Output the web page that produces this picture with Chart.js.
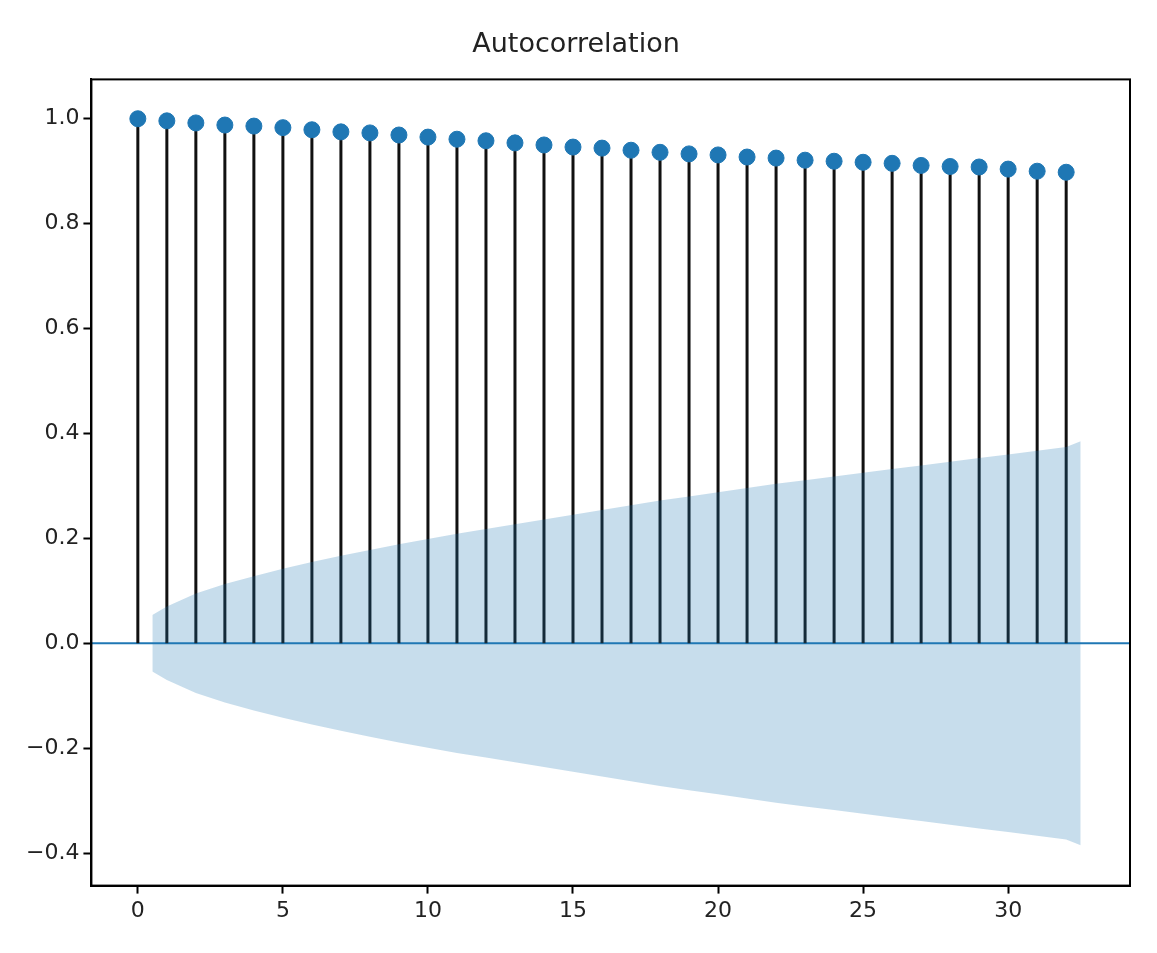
<!DOCTYPE html>
<html><head>
<script src="https://cdn.jsdelivr.net/npm/chart.js@4/dist/chart.umd.min.js"></script>
<style>body{margin:0;background:#fff}#wrap{width:1157px;height:953px}</style>
</head><body><div id="wrap"><canvas id="c"></canvas></div>
<script>
const lags = [0,1,2,3,4,5,6,7,8,9,10,11,12,13,14,15,16,17,18,19,20,21,22,23,24,25,26,27,28,29,30,31,32];
const acf = [1.0,0.996,0.992,0.988,0.986,0.983,0.979,0.975,0.973,0.969,0.965,0.961,0.958,0.954,0.950,0.946,0.944,0.940,0.936,0.933,0.931,0.927,0.925,0.921,0.919,0.917,0.915,0.911,0.909,0.908,0.904,0.900,0.898];
const bandX = [0.5,1,2,3,4,5,6,7,8,9,10,11,12,13,14,15,16,17,18,19,20,21,22,23,24,25,26,27,28,29,30,31,32,32.5];
const bandHi = [0.054,0.07,0.095,0.113,0.128,0.142,0.155,0.167,0.178,0.189,0.199,0.209,0.218,0.227,0.236,0.245,0.254,0.263,0.272,0.28,0.288,0.296,0.304,0.311,0.318,0.325,0.332,0.339,0.346,0.353,0.36,0.367,0.374,0.385];
const bandLo = bandHi.map(v => -v);
const yTicks = [-0.4,-0.2,0.0,0.2,0.4,0.6,0.8,1.0];

const stems = {
  id:'stems',
  beforeDatasetsDraw(chart){
    const {ctx, scales:{x,y}} = chart;
    ctx.save();
    ctx.strokeStyle = '#1f77b4'; ctx.lineWidth = 2;
    ctx.beginPath(); ctx.moveTo(chart.chartArea.left, y.getPixelForValue(0));
    ctx.lineTo(chart.chartArea.right, y.getPixelForValue(0)); ctx.stroke();
    ctx.strokeStyle = '#111'; ctx.lineWidth = 3;
    lags.forEach((l,i) => {
      ctx.beginPath();
      ctx.moveTo(x.getPixelForValue(l), y.getPixelForValue(0));
      ctx.lineTo(x.getPixelForValue(l), y.getPixelForValue(acf[i]));
      ctx.stroke();
    });
    ctx.restore();
  },
  afterDraw(chart){
    const {ctx, chartArea:a} = chart;
    ctx.save(); ctx.strokeStyle='#000'; ctx.lineWidth=2;
    ctx.strokeRect(a.left, a.top, a.right-a.left, a.bottom-a.top);
    ctx.restore();
  }
};

const gridOpts = {display:true, drawOnChartArea:false, drawTicks:true, tickLength:8, color:'#000', tickWidth:2};

new Chart(document.getElementById('c'), {
  type:'scatter',
  data:{datasets:[
    {type:'line', data:bandX.map((x,i)=>({x, y:bandHi[i]})), borderWidth:0, pointRadius:0, backgroundColor:'rgba(31,119,180,0.25)', fill:false},
    {type:'line', data:bandX.map((x,i)=>({x, y:bandLo[i]})), borderWidth:0, pointRadius:0, backgroundColor:'rgba(31,119,180,0.25)', fill:'-1'},
    {data:lags.map((x,i)=>({x, y:acf[i]})), backgroundColor:'#1f77b4', borderColor:'#1f77b4', pointRadius:8}
  ]},
  plugins:[stems],
  options:{
    responsive:true, maintainAspectRatio:false, animation:false,
    layout:{padding:{left:22,right:27,top:14,bottom:25}},
    plugins:{legend:{display:false}, tooltip:{enabled:false},
      title:{display:true, text:'Autocorrelation', color:'#222', font:{family:'DejaVu Sans', size:27, weight:'normal'}, padding:{top:15,bottom:18}}},
    scales:{
      x:{type:'linear', min:-1.6, max:34.2, grid:gridOpts,
        border:{color:'#000', width:2},
        afterBuildTicks(s){ s.ticks=[0,5,10,15,20,25,30].map(v=>({value:v})); },
        ticks:{color:'#222', font:{family:'DejaVu Sans', size:22}, padding:4}},
      y:{min:-0.462, max:1.075, grid:gridOpts,
        border:{color:'#000', width:2},
        afterBuildTicks(s){ s.ticks=yTicks.map(v=>({value:v})); },
        ticks:{color:'#222', font:{family:'DejaVu Sans', size:22}, padding:4,
          callback:v=>v.toFixed(1).replace('-','\u2212')}}
    }
  }
});
</script></body></html>
